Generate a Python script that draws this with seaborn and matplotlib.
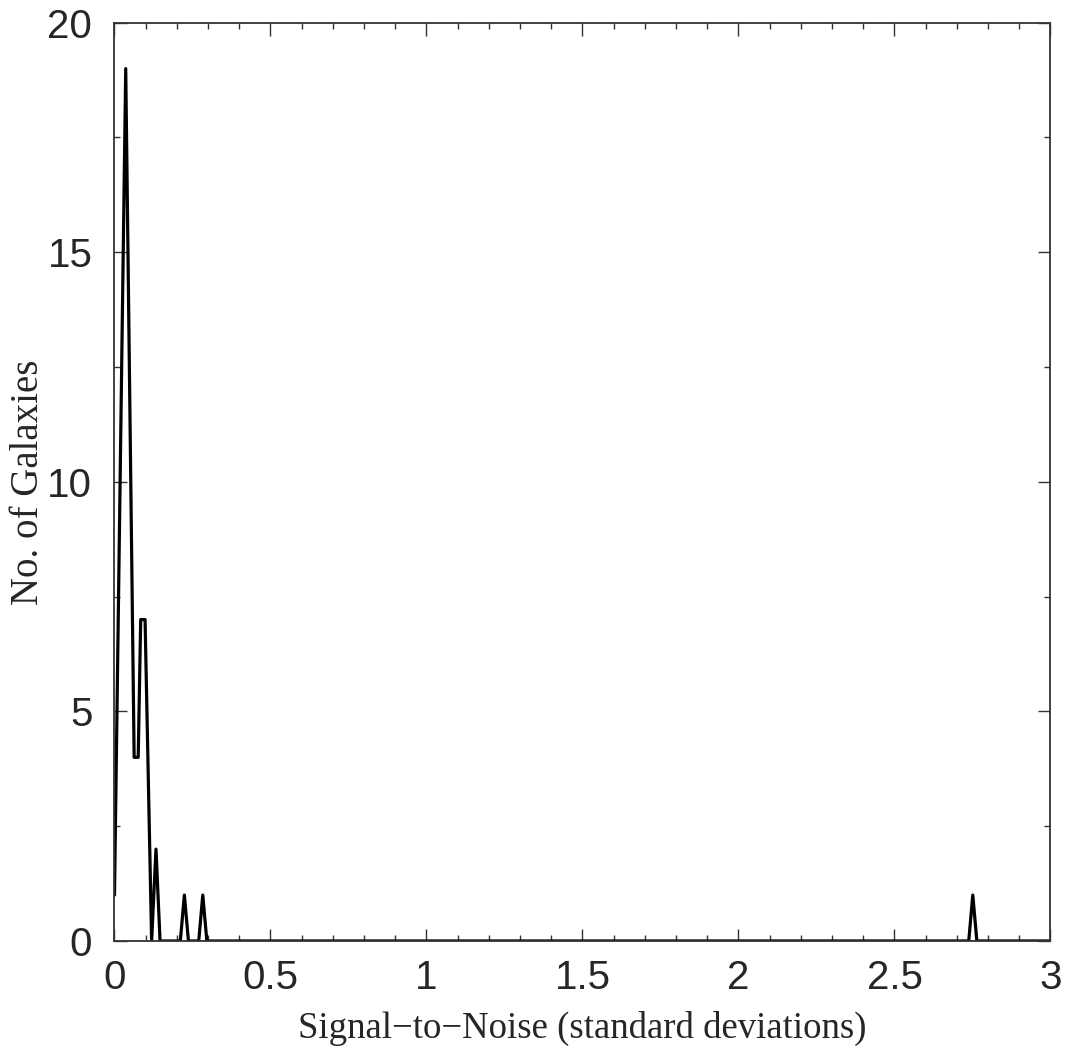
import matplotlib
matplotlib.use("Agg")
import matplotlib.pyplot as plt
from matplotlib.ticker import MultipleLocator
import numpy as np
import pandas as pd
import seaborn as sns

# Frequency polygon of galaxy signal-to-noise values (vertices of the outline)
snr = [0.0, 0.036, 0.063, 0.076, 0.084, 0.098, 0.119, 0.133, 0.146,
       0.211, 0.224, 0.237, 0.270, 0.283, 0.296,
       2.738, 2.751, 2.764, 3.0]
counts = [1, 19, 4, 4, 7, 7, 0, 2, 0,
          0, 1, 0, 0, 1, 0,
          0, 1, 0, 0]

x_ticks = [0, 0.5, 1, 1.5, 2, 2.5, 3]
x_tick_labels = ["0", "0.5", "1", "1.5", "2", "2.5", "3"]
y_ticks = [0, 5, 10, 15, 20]

df = pd.DataFrame({"snr": snr, "count": counts})

sns.set_theme(style="ticks")
plt.rcParams["font.family"] = ["Liberation Sans", "DejaVu Sans"]

fig = plt.figure(figsize=(10.68, 10.51), dpi=100)
ax = fig.add_axes([0.1072, 0.1047, 0.8764, 0.8737])

sns.lineplot(data=df, x="snr", y="count", sort=False, estimator=None,
             color="black", linewidth=2.3, ax=ax)

ax.set_xlim(0, 3)
ax.set_ylim(0, 20)
ax.set_xticks(x_ticks)
ax.set_xticklabels(x_tick_labels)
ax.set_yticks(y_ticks)
ax.xaxis.set_minor_locator(MultipleLocator(0.1))
ax.yaxis.set_minor_locator(MultipleLocator(2.5))

ax.tick_params(which="both", direction="in", top=True, right=True,
               color="#333333", width=1.0)
ax.tick_params(which="major", length=9, labelsize=29)
ax.tick_params(which="minor", length=4.5)
ax.tick_params(axis="x", which="major", pad=13)
ax.tick_params(axis="y", which="major", pad=16)

for sp in ax.spines.values():
    sp.set_visible(True)
    sp.set_linewidth(1.3)
    sp.set_color("#333333")

serif = ["Liberation Serif", "DejaVu Serif"]
ax.set_xlabel("Signal\u2212to\u2212Noise (standard deviations)",
              fontsize=26.5, family=serif, labelpad=10)
ax.set_ylabel("No. of Galaxies", fontsize=28, family=serif)
ax.yaxis.label.set_va("center")
ax.yaxis.set_label_coords(-0.092, 0.5)

fig.savefig("out.png", dpi=100, facecolor="white")
